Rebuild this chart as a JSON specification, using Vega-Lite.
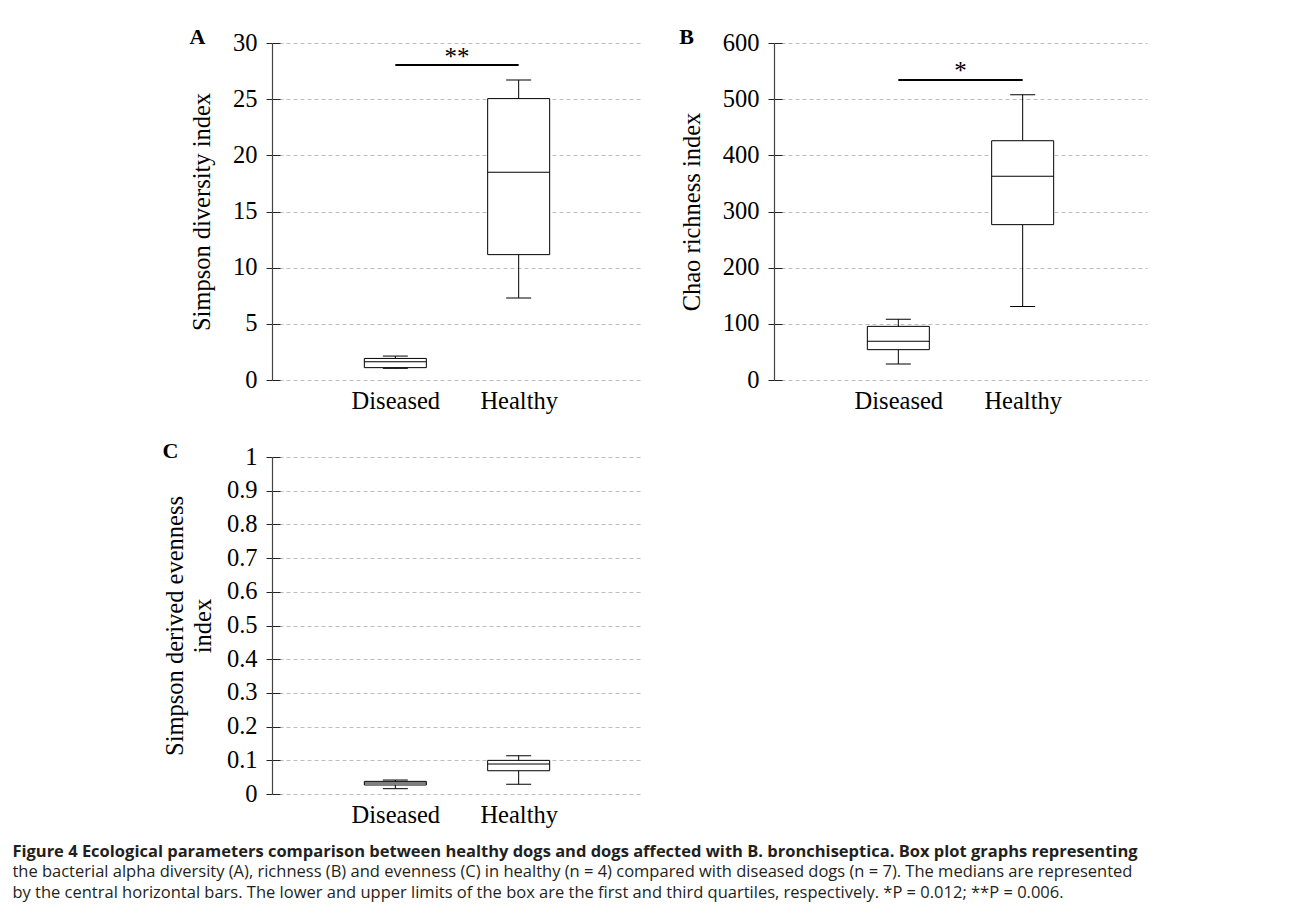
{
  "$schema": "https://vega.github.io/schema/vega-lite/v6.json",
  "background": "white",
  "padding": {"left": 12, "top": 26, "right": 10, "bottom": 5},
  "title": {
    "text": "Figure 4  Ecological parameters comparison between healthy dogs and dogs affected with B. bronchiseptica. Box plot graphs representing",
    "subtitle": [
      "the bacterial alpha diversity (A), richness (B) and evenness (C) in healthy (n = 4) compared with diseased dogs (n = 7). The medians are represented",
      "by the central horizontal bars. The lower and upper limits of the box are the first and third quartiles, respectively. *P = 0.012; **P = 0.006."
    ],
    "orient": "bottom",
    "anchor": "start",
    "frame": "bounds",
    "dx": -150,
    "offset": 17,
    "font": "Open Sans",
    "fontSize": 16.5,
    "fontWeight": "bold",
    "color": "#231f20",
    "subtitleFont": "Open Sans",
    "subtitleFontSize": 16.5,
    "subtitleColor": "#231f20",
    "subtitleLineHeight": 20.5,
    "subtitlePadding": 4
  },
  "columns": 2,
  "spacing": {"column": 37, "row": 27},
  "concat": [
    {
      "width": 370,
      "height": 337,
      "title": {"text": "A", "anchor": "start", "frame": "bounds", "baseline": "alphabetic", "offset": -36, "font": "Liberation Serif", "fontSize": 22, "fontWeight": "bold"},
      "data": {"values": [
        {"group": "Diseased", "min": 1.04, "q1": 1.1, "median": 1.63, "q3": 1.92, "max": 2.13},
        {"group": "Healthy", "min": 7.31, "q1": 11.16, "median": 18.5, "q3": 25.05, "max": 26.7}
      ]},
      "encoding": {
        "x": {"field": "group", "type": "nominal", "scale": {"type": "point", "padding": 1, "domain": ["Diseased", "Healthy"]},
              "axis": {"title": null, "labelAngle": 0, "ticks": false, "domain": false, "grid": false, "labelPadding": 9}}
      },
      "resolve": {"axis": {"y": "independent"}},
      "layer": [
        {
          "mark": {"type": "rule", "color": "black", "strokeWidth": 1},
          "encoding": {
            "y": {"field": "min", "type": "quantitative", "scale": {"domain": [0, 30], "nice": false},
                  "axis": {"orient": "left", "offset": -8, "tickSize": 8, "labels": false, "domain": false, "grid": false, "title": null, "values": [0, 5, 10, 15, 20, 25, 30]}},
            "y2": {"field": "q1"}
          }
        },
        {
          "mark": {"type": "bar", "width": 62, "fill": "white", "stroke": "black", "strokeWidth": 1},
          "encoding": {
            "y": {"field": "q1", "type": "quantitative",
                  "axis": {"orient": "left", "title": "Simpson diversity index", "values": [0, 5, 10, 15, 20, 25, 30], "tickSize": 6, "labelPadding": 9, "titlePadding": 18, "grid": true}},
            "y2": {"field": "q3"}
          }
        },
        {
          "mark": {"type": "rule", "color": "black", "strokeWidth": 1},
          "encoding": {"y": {"field": "q3", "type": "quantitative", "axis": null}, "y2": {"field": "max"}}
        },
        {
          "mark": {"type": "tick", "color": "black", "size": 62, "thickness": 1, "opacity": 1},
          "encoding": {"y": {"field": "median", "type": "quantitative", "axis": null}}
        },
        {
          "mark": {"type": "tick", "color": "black", "size": 25, "thickness": 1, "opacity": 1},
          "encoding": {"y": {"field": "min", "type": "quantitative", "axis": null}}
        },
        {
          "mark": {"type": "tick", "color": "black", "size": 25, "thickness": 1, "opacity": 1},
          "encoding": {"y": {"field": "max", "type": "quantitative", "axis": null}}
        },
        {
          "data": {"values": [{"group": "Diseased", "to": "Healthy", "y": 28.04, "label": "**"}]},
          "mark": {"type": "rule", "color": "black", "strokeWidth": 2},
          "encoding": {
            "x2": {"field": "to"},
            "y": {"field": "y", "type": "quantitative", "axis": null}
          }
        },
        {
          "data": {"values": [{"group": "Diseased", "to": "Healthy", "y": 28.04, "label": "**"}]},
          "mark": {"type": "text", "dx": 61.7, "dy": 0, "baseline": "alphabetic", "font": "Liberation Serif", "fontSize": 25, "color": "black"},
          "encoding": {
            "y": {"field": "y", "type": "quantitative", "axis": null},
            "text": {"field": "label"}
          }
        }
      ]
    },
    {
      "width": 373,
      "height": 337,
      "title": {"text": "B", "anchor": "start", "frame": "bounds", "baseline": "alphabetic", "offset": -36, "font": "Liberation Serif", "fontSize": 22, "fontWeight": "bold"},
      "data": {"values": [
        {"group": "Diseased", "min": 28.5, "q1": 54, "median": 68.8, "q3": 95.5, "max": 108},
        {"group": "Healthy", "min": 131, "q1": 276.6, "median": 362.6, "q3": 426, "max": 508}
      ]},
      "encoding": {
        "x": {"field": "group", "type": "nominal", "scale": {"type": "point", "padding": 1, "domain": ["Diseased", "Healthy"]},
              "axis": {"title": null, "labelAngle": 0, "ticks": false, "domain": false, "grid": false, "labelPadding": 9}}
      },
      "resolve": {"axis": {"y": "independent"}},
      "layer": [
        {
          "mark": {"type": "rule", "color": "black", "strokeWidth": 1},
          "encoding": {
            "y": {"field": "min", "type": "quantitative", "scale": {"domain": [0, 600], "nice": false},
                  "axis": {"orient": "left", "offset": -8, "tickSize": 8, "labels": false, "domain": false, "grid": false, "title": null, "values": [0, 100, 200, 300, 400, 500, 600]}},
            "y2": {"field": "q1"}
          }
        },
        {
          "mark": {"type": "bar", "width": 62, "fill": "white", "stroke": "black", "strokeWidth": 1},
          "encoding": {
            "y": {"field": "q1", "type": "quantitative",
                  "axis": {"orient": "left", "title": "Chao richness index", "values": [0, 100, 200, 300, 400, 500, 600], "tickSize": 6, "labelPadding": 9, "titlePadding": 18, "grid": true}},
            "y2": {"field": "q3"}
          }
        },
        {
          "mark": {"type": "rule", "color": "black", "strokeWidth": 1},
          "encoding": {"y": {"field": "q3", "type": "quantitative", "axis": null}, "y2": {"field": "max"}}
        },
        {
          "mark": {"type": "tick", "color": "black", "size": 62, "thickness": 1, "opacity": 1},
          "encoding": {"y": {"field": "median", "type": "quantitative", "axis": null}}
        },
        {
          "mark": {"type": "tick", "color": "black", "size": 25, "thickness": 1, "opacity": 1},
          "encoding": {"y": {"field": "min", "type": "quantitative", "axis": null}}
        },
        {
          "mark": {"type": "tick", "color": "black", "size": 25, "thickness": 1, "opacity": 1},
          "encoding": {"y": {"field": "max", "type": "quantitative", "axis": null}}
        },
        {
          "data": {"values": [{"group": "Diseased", "to": "Healthy", "y": 534, "label": "*"}]},
          "mark": {"type": "rule", "color": "black", "strokeWidth": 2},
          "encoding": {
            "x2": {"field": "to"},
            "y": {"field": "y", "type": "quantitative", "axis": null}
          }
        },
        {
          "data": {"values": [{"group": "Diseased", "to": "Healthy", "y": 534, "label": "*"}]},
          "mark": {"type": "text", "dx": 62.2, "dy": -1, "baseline": "alphabetic", "font": "Liberation Serif", "fontSize": 25, "color": "black"},
          "encoding": {
            "y": {"field": "y", "type": "quantitative", "axis": null},
            "text": {"field": "label"}
          }
        }
      ]
    },
    {
      "width": 370,
      "height": 337,
      "title": {"text": "C", "anchor": "start", "frame": "bounds", "baseline": "alphabetic", "offset": -36, "font": "Liberation Serif", "fontSize": 22, "fontWeight": "bold"},
      "data": {"values": [
        {"group": "Diseased", "min": 0.0158, "q1": 0.0267, "median": 0.0326, "q3": 0.0375, "max": 0.0415},
        {"group": "Healthy", "min": 0.0287, "q1": 0.069, "median": 0.089, "q3": 0.0998, "max": 0.1136}
      ]},
      "encoding": {
        "x": {"field": "group", "type": "nominal", "scale": {"type": "point", "padding": 1, "domain": ["Diseased", "Healthy"]},
              "axis": {"title": null, "labelAngle": 0, "ticks": false, "domain": false, "grid": false, "labelPadding": 9}}
      },
      "resolve": {"axis": {"y": "independent"}},
      "layer": [
        {
          "mark": {"type": "rule", "color": "black", "strokeWidth": 1},
          "encoding": {
            "y": {"field": "min", "type": "quantitative", "scale": {"domain": [0, 1], "nice": false},
                  "axis": {"orient": "left", "offset": -8, "tickSize": 8, "labels": false, "domain": false, "grid": false, "title": null, "values": [0, 0.1, 0.2, 0.3, 0.4, 0.5, 0.6, 0.7, 0.8, 0.9, 1]}},
            "y2": {"field": "q1"}
          }
        },
        {
          "mark": {"type": "bar", "width": 62, "fill": "white", "stroke": "black", "strokeWidth": 1},
          "encoding": {
            "y": {"field": "q1", "type": "quantitative",
                  "axis": {"orient": "left", "title": ["Simpson derived evenness", "index"], "titleLineHeight": 28, "format": "~f", "values": [0, 0.1, 0.2, 0.3, 0.4, 0.5, 0.6, 0.7, 0.8, 0.9, 1], "tickSize": 6, "labelPadding": 9, "titlePadding": 11, "grid": true}},
            "y2": {"field": "q3"}
          }
        },
        {
          "mark": {"type": "rule", "color": "black", "strokeWidth": 1},
          "encoding": {"y": {"field": "q3", "type": "quantitative", "axis": null}, "y2": {"field": "max"}}
        },
        {
          "mark": {"type": "tick", "color": "black", "size": 62, "thickness": 1, "opacity": 1},
          "encoding": {"y": {"field": "median", "type": "quantitative", "axis": null}}
        },
        {
          "mark": {"type": "tick", "color": "black", "size": 25, "thickness": 1, "opacity": 1},
          "encoding": {"y": {"field": "min", "type": "quantitative", "axis": null}}
        },
        {
          "mark": {"type": "tick", "color": "black", "size": 25, "thickness": 1, "opacity": 1},
          "encoding": {"y": {"field": "max", "type": "quantitative", "axis": null}}
        }
      ]
    }
  ],
  "config": {
    "view": {"stroke": null},
    "font": "Liberation Serif",
    "axis": {
      "labelFont": "Liberation Serif",
      "labelFontSize": 24.5,
      "labelColor": "black",
      "titleFont": "Liberation Serif",
      "titleFontSize": 24.5,
      "titleFontWeight": "normal",
      "titleColor": "black",
      "domainColor": "#444444",
      "domainWidth": 1.2,
      "tickColor": "#222222",
      "gridColor": "#bdbdbd",
      "gridDash": [4, 3]
    }
  }
}
